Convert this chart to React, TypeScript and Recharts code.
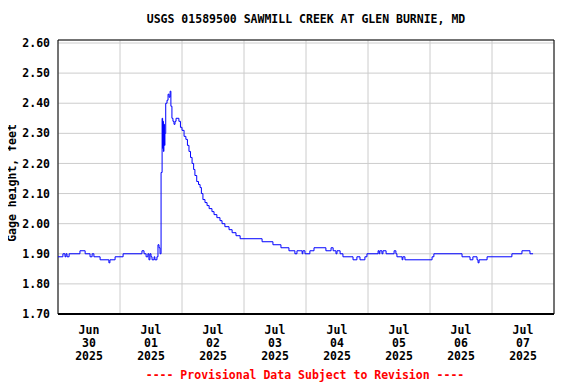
import React from 'react';
import { LineChart, Line, XAxis, YAxis, CartesianGrid, ReferenceArea } from 'recharts';

// hours since Jun 30 2025 00:00
const hours = [
  0, 1.9, 2.7, 3.1, 3.5, 4.3, 8.5, 10.5, 12.4, 13.2, 13.9, 16.3, 19.7, 20.1, 22.1, 25.2,
  32.5, 33.3, 34.1, 34.8, 35.2, 35.6, 36.0, 36.4, 37.2, 37.5, 38.3, 38.7, 39.1, 39.5,
  39.9, 40.3, 40.5, 40.6, 40.8, 41.0, 41.2, 41.4, 41.7, 42.2, 42.6, 43.0, 43.4, 43.7,
  44.1, 44.5, 44.9, 45.3, 45.7, 46.8, 47.4, 48.0, 48.8, 49.5, 50.1, 50.7, 51.3, 51.9,
  52.5, 53.0, 53.7, 54.4, 55.0, 55.5, 56.1, 56.9, 57.7, 58.5, 59.6, 60.4, 61.5, 62.7,
  63.5, 64.6, 66.2, 67.4, 68.9, 70.5, 79.0, 83.2, 86.3, 89.4, 91.7, 92.5, 93.7, 94.5,
  94.8, 95.6, 97.5, 99.1, 103.7, 105.7, 106.5, 107.6, 108.0, 109.2, 110.3, 114.2,
  115.7, 116.9, 118.8, 119.6, 123.9, 124.3, 124.6, 125.4, 125.8, 127.0, 130.1, 130.8,
  131.2, 132.4, 133.2, 133.5, 134.3, 144.8, 145.5, 156.4, 159.5, 160.6, 162.2, 162.6,
  163.0, 166.1, 175.7, 179.6, 182.7, 183.9,
];
const gage = [
  1.89, 1.90, 1.89, 1.90, 1.89, 1.90, 1.91, 1.90, 1.89, 1.90, 1.89, 1.88, 1.87, 1.88, 1.89, 1.90,
  1.91, 1.90, 1.89, 1.90, 1.88, 1.90, 1.89, 1.88, 1.89, 1.88, 1.89, 1.93, 1.92, 1.90,
  2.17, 2.35, 2.25, 2.34, 2.24, 2.33, 2.26, 2.30, 2.40, 2.41, 2.43, 2.42, 2.44, 2.39,
  2.35, 2.34, 2.33, 2.34, 2.35, 2.34, 2.32, 2.31, 2.29, 2.28, 2.26, 2.24, 2.22, 2.20,
  2.18, 2.16, 2.14, 2.13, 2.12, 2.10, 2.08, 2.07, 2.06, 2.05, 2.04, 2.03, 2.02, 2.01,
  2.00, 1.99, 1.98, 1.97, 1.96, 1.95, 1.94, 1.93, 1.92, 1.91, 1.90, 1.91, 1.91, 1.90,
  1.91, 1.90, 1.91, 1.92, 1.91, 1.92, 1.91, 1.90, 1.91, 1.90, 1.89, 1.88,
  1.89, 1.88, 1.89, 1.90, 1.91, 1.90, 1.91, 1.90, 1.91, 1.90, 1.91, 1.90,
  1.89, 1.89, 1.88, 1.89, 1.88, 1.89, 1.90, 1.89, 1.88, 1.89, 1.88, 1.87,
  1.88, 1.89, 1.90, 1.91, 1.90, 1.90,
];

const gridHours = [0, 24, 48, 72, 96, 120, 144, 168, 192];
const labelHours = [12, 36, 60, 84, 108, 132, 156, 180];
const labelMonths = ['Jun', 'Jul', 'Jul', 'Jul', 'Jul', 'Jul', 'Jul', 'Jul'];
const labelDays = ['30', '01', '02', '03', '04', '05', '06', '07'];
const labelYears = ['2025', '2025', '2025', '2025', '2025', '2025', '2025', '2025'];
const yTicks = [1.7, 1.8, 1.9, 2.0, 2.1, 2.2, 2.3, 2.4, 2.5, 2.6];

const data = hours.map((t, i) => ({ t, v: gage[i] }));

const FONT = '"DejaVu Sans Mono", monospace';

function DateTick({ x, y, payload }: any) {
  const i = labelHours.indexOf(payload.value);
  if (i < 0) return null;
  return (
    <text x={x} y={y} textAnchor="middle" fontFamily={FONT} fontWeight="bold" fontSize={11.5} fill="#000">
      <tspan x={x} dy={12}>{labelMonths[i]}</tspan>
      <tspan x={x} dy={13}>{labelDays[i]}</tspan>
      <tspan x={x} dy={13}>{labelYears[i]}</tspan>
    </text>
  );
}

function YLabel({ viewBox }: any) {
  const x = viewBox.x + 12;
  const y = viewBox.y + viewBox.height / 2 + 6;
  return (
    <text x={x} y={y} transform={`rotate(-90, ${x}, ${y})`} textAnchor="middle" dominantBaseline="central"
      fontFamily={FONT} fontWeight="bold" fontSize={11.5} fill="#000">
      Gage height, feet
    </text>
  );
}

export default function App() {
  return (
    <div style={{ position: 'relative', width: 576, height: 384, marginLeft: -8, marginTop: -8, background: '#fff' }}>
      <div style={{ position: 'absolute', left: 0, top: 12, width: 612, textAlign: 'center', fontFamily: FONT, fontWeight: 'bold', fontSize: 11.5, lineHeight: '14px', color: '#000' }}>
        USGS 01589500 SAWMILL CREEK AT GLEN BURNIE, MD
      </div>
      <LineChart width={576} height={384} data={data} margin={{ top: 40, right: 22, bottom: 0, left: 0 }}>
        <XAxis xAxisId="grid" dataKey="t" type="number" domain={[0, 192]} ticks={gridHours} hide height={0} allowDataOverflow />
        <XAxis xAxisId="lbl" dataKey="t" type="number" domain={[0, 192]} ticks={labelHours} height={70}
          tickLine={false} axisLine={{ stroke: '#000', strokeWidth: 2 }} tick={<DateTick />} interval={0} allowDataOverflow />
        <YAxis type="number" domain={[1.7, 2.61]} ticks={yTicks} width={58} tickLine={false} axisLine={false}
          interval={0} allowDataOverflow tickFormatter={(v: number) => v.toFixed(2)}
          tick={{ fontFamily: FONT, fontWeight: 'bold', fontSize: 11.5, fill: '#000' }}
          label={<YLabel />} />
        <CartesianGrid xAxisId="grid" stroke="#cccccc" strokeWidth={1} />
        <Line xAxisId="grid" dataKey="v" type="stepAfter" stroke="#0000ff" strokeWidth={1} dot={false} isAnimationActive={false} />
        <ReferenceArea xAxisId="grid" x1={0} x2={192} y1={1.7} y2={2.61} fill="none" fillOpacity={0} stroke="#000" strokeWidth={1} ifOverflow="visible" />
      </LineChart>
      <div style={{ position: 'absolute', left: 0, top: 368, width: 610, textAlign: 'center', fontFamily: FONT, fontWeight: 'bold', fontSize: 11.5, lineHeight: '14px', color: '#ff0000' }}>
        ---- Provisional Data Subject to Revision ----
      </div>
    </div>
  );
}
